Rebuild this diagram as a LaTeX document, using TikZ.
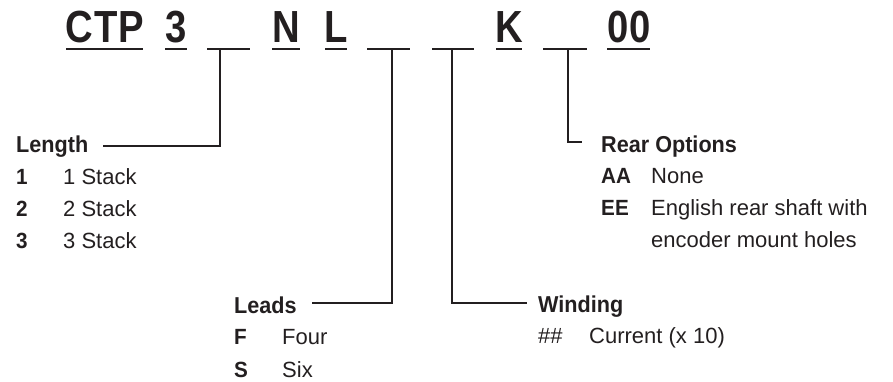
\documentclass[tikz,border=0pt]{standalone}
\usepackage{fontspec}
\setmainfont{Liberation Sans}
\newfontfamily\codefont[FakeStretch=0.85,LetterSpace=2]{Liberation Sans}
\newfontfamily\headfont[FakeStretch=0.94]{Liberation Sans}
\newfontfamily\bodyfont{Liberation Sans}
\definecolor{ink}{HTML}{231F20}
\tikzset{
  code/.style={anchor=base, inner sep=0pt, text=ink, font=\codefont\bfseries\fontsize{45}{45}\selectfont},
  head/.style={anchor=base west, inner sep=0pt, text=ink, font=\headfont\bfseries\fontsize{23}{23}\selectfont},
  keyt/.style={anchor=base west, inner sep=0pt, text=ink, font=\headfont\bfseries\fontsize{22}{22}\selectfont},
  bodyt/.style={anchor=base west, inner sep=0pt, text=ink, font=\bodyfont\fontsize{22}{22}\selectfont},
  uline/.style={draw=ink, line width=2pt},
  conn/.style={draw=ink, line width=1.8pt},
}
\begin{document}
\begin{tikzpicture}[x=1pt,y=-1pt]
\useasboundingbox (0,0) rectangle (893,381);
% code letters
\node[code] (cCTP) at (105,42.5) {CTP};
\node[code] (c3) at (176.5,42.5) {3};
\node[code] (cN) at (286.5,42.5) {N};
\node[code] (cL) at (336.5,42.5) {L};
\node[code] (cK) at (509.5,42.5) {K};
\node[code] (c00) at (629,42.5) {00};
% underlines
\draw[uline] (66,48.5) -- (143,48.5);
\draw[uline] (165,48.5) -- (187,48.5);
\draw[uline] (207,48.5) -- (250,48.5);
\draw[uline] (272,48.5) -- (300,48.5);
\draw[uline] (325,48.5) -- (347,48.5);
\draw[uline] (367,48.5) -- (410,48.5);
\draw[uline] (432,48.5) -- (474,48.5);
\draw[uline] (496,48.5) -- (522,48.5);
\draw[uline] (543,48.5) -- (587,48.5);
\draw[uline] (607,48.5) -- (650,48.5);
% stem tops
\coordinate (b1) at (220,48.5);
\coordinate (b2) at (392,48.5);
\coordinate (b3) at (452,48.5);
\coordinate (b4) at (568,48.5);
% Length
\node[head] (len) at (16,152) {Length};
\coordinate (lenE) at (103,146);
\draw[conn] (b1) |- (lenE);
\node[keyt] (k1) at (16,184) {1};
\node[bodyt] (t1) at (63,184) {1 Stack};
\node[keyt] (k2) at (16,216) {2};
\node[bodyt] (t2) at (63,216) {2 Stack};
\node[keyt] (k3) at (16,248) {3};
\node[bodyt] (t3) at (63,248) {3 Stack};
% Leads
\node[head] (leads) at (234,313) {Leads};
\coordinate (leadsE) at (312,303);
\draw[conn] (b2) |- (leadsE);
\node[keyt] (kF) at (234,344) {F};
\node[bodyt] (tF) at (282,344) {Four};
\node[keyt] (kS) at (234,377) {S};
\node[bodyt] (tS) at (282,377) {Six};
% Winding
\node[head] (wind) at (538,312) {Winding};
\coordinate (windW) at (527,303);
\draw[conn] (b3) |- (windW);
\node[bodyt] (kH) at (538,343) {\#\#};
\node[bodyt] (tH) at (589,343) {Current (x 10)};
% Rear options
\node[head] (rear) at (601,152) {Rear Options};
\coordinate (rearW) at (582,142);
\draw[conn] (b4) |- (rearW);
\node[keyt] (kA) at (601,183) {AA};
\node[bodyt] (tA) at (651,183) {None};
\node[keyt] (kE) at (601,215) {EE};
\node[bodyt] (tE) at (651,215) {English rear shaft with};
\node[bodyt] (tE2) at (651,247) {encoder mount holes};
\end{tikzpicture}
\end{document}
